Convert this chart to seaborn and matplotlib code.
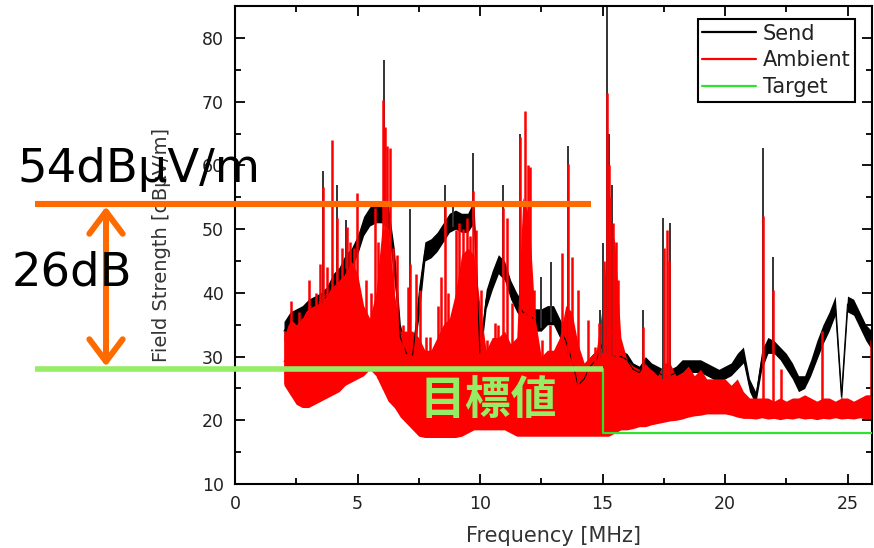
import numpy as np
import pandas as pd
import matplotlib
matplotlib.use("Agg")
import matplotlib.pyplot as plt
import seaborn as sns
from matplotlib.lines import Line2D

# ---------------- data ----------------
freq = np.round(np.arange(2.0, 26.001, 0.25), 2)  # MHz grid of the envelopes

# Send trace (black band): lower / upper envelope, dBuV/m
send_hi = [35.5, 37, 37.5, 38,  39, 39.5, 40, 41,  43, 44, 46, 47,
           49, 52, 53.5, 54,  54, 54, 47, 35,  31.5, 31.5, 41, 48,
           48.5, 49.5, 51, 52.5,  53, 52.5, 52.5, 54.5,  32, 40.5, 43.5, 46,
           45, 42, 40, 38.5,  38, 37.5, 37.5, 38,  38, 36, 34, 31,
           27, 28, 30, 31,  34, 33, 31, 31,  30.5, 29, 28.5, 30,
           29, 28.5, 28, 28,  28.5, 29.5, 29.5, 29.5,  29.5, 29, 28.5, 28,
           28.5, 29, 30.5, 31.5,  26.5, 24.5, 31, 33,  32.5, 31.5, 30.5, 29,
           27, 27, 29.5, 32.5,  35, 37, 39.5, 25,  39.5, 39, 37, 35,  34]
send_lo = [32.5, 34, 34.5, 35,  36, 36.5, 37, 38,  40, 41, 43, 44,
           46, 49, 50.5, 51,  51, 50, 42, 31,  29.5, 29, 36, 45,
           45.5, 46.5, 48, 49.5,  50, 49.5, 49.5, 51,  29, 37.5, 40.5, 43,
           42, 39, 37, 35.5,  35, 34, 34, 35,  35, 33, 31, 28,
           24, 25, 27, 28,  30, 30, 29, 29,  28.5, 27, 26.5, 28,
           27, 26.5, 26, 26,  26.5, 27.5, 27.5, 27.5,  27.5, 27, 26.5, 26,
           26.5, 27, 28, 29,  24.5, 22.5, 28, 30.5,  30.5, 29.5, 28, 26.5,
           24.5, 25, 27, 29.5,  32, 34, 36.5, 22.5,  37, 36.5, 34.5, 32.5,  31]

# Ambient trace (red band): lower / upper envelope
amb_hi = [33, 36, 35, 36,  38, 38, 39, 40,  41, 42, 43, 45,
          43, 38, 36, 40,  50, 50, 40, 34,  34, 34, 33, 31,
          31, 33, 35, 36,  40, 46, 47, 46,  38, 31, 33, 33,
          34, 32, 33, 55,  52, 36, 30, 31,  31, 33, 38, 37,
          32, 29, 30, 31,  38, 52, 48, 33,  29.5, 28.5, 28, 29,
          28, 27, 29, 29,  27, 27.5, 28.5, 27,  28, 26.5, 26.5, 26.5,
          26.5, 25.5, 26.5, 24.5,  23.5, 23.5, 23.5, 23.5,  23, 23.5, 23, 23.5,
          23.5, 24, 23.5, 23,  23.5, 23.5, 23, 23.5,  23.5, 23, 23.5, 24,  24]
amb_lo = [25.5, 24, 22.5, 22,  22, 22.5, 23, 23.5,  24, 24.5, 25.5, 26,
          26.5, 27, 28, 27,  25, 23, 22, 20.5,  19.5, 18.5, 17.5, 17.3,
          17.3, 17.3, 17.3, 17.3,  17.3, 17.5, 18, 18.5,  18.5, 18.5, 18.5, 18.5,
          18.5, 18, 17.5, 17.5,  17.5, 17.5, 17.5, 17.5,  17.5, 17.5, 17.5, 17.5,
          17.5, 17.5, 17.5, 17.5,  17.5, 17.5, 18, 18.5,  18.5, 18.7, 19, 19,
          19.3, 19.5, 19.7, 19.9,  20, 20.2, 20.5, 20.7,  20.8, 21, 21, 21,
          21, 20.8, 20.5, 20.3,  20.3, 20.2, 20.4, 20.2,  20.3, 20.1, 20.3, 20.2,
          20.4, 20.2, 20.3, 20.1,  20.3, 20.2, 20.4, 20.2,  20.3, 20.2, 20.4, 20.2,  20.3]

# narrow spikes (frequency, peak level)
send_spike_f = [3.6, 4.15, 4.55, 6.08, 7.14, 8.57, 8.9, 9.71, 10.94, 11.63,
                12.5, 12.9, 13.6, 14.9, 15.0, 15.18, 15.28, 15.38, 16.66,
                17.47, 17.75, 21.55, 21.96]
send_spike_top = [59.2, 57, 51.4, 76.5, 53.2, 57, 54.5, 62, 56.9, 65,
                  42.5, 44.8, 63.1, 37.3, 47.8, 85, 65, 57, 37.3,
                  51.7, 51, 62.8, 45.6]
amb_spike_f = [2.05, 2.3, 2.6, 2.75, 3.0, 3.3, 3.47, 3.6, 3.75, 3.96, 4.16, 4.35,
               4.57, 4.7, 4.85, 4.98, 5.35, 5.55, 5.7, 5.85, 6.05, 6.12, 6.2,
               6.33, 6.45, 6.6, 6.85, 7.05, 7.14, 7.4, 7.55, 7.8, 7.96, 8.3, 8.4,
               8.57, 8.7, 9.0, 9.15, 9.3, 9.47, 9.6, 9.71, 9.85, 10.05, 10.3,
               10.6, 10.75, 10.94, 11.1, 11.3, 11.63, 11.84, 11.95, 12.04, 12.2,
               12.55, 12.85, 13.35, 13.6, 13.75, 14.0, 14.4, 14.7, 14.85, 15.05,
               15.18, 15.25, 15.32, 15.42, 15.55, 15.65, 16.65, 17.5, 17.62,
               17.72, 21.55, 21.96, 22.3, 23.95, 25.95]
amb_spike_top = [34, 38.8, 37, 36, 42, 40, 44.6, 56.6, 44, 64, 51.8, 47,
                 50.3, 48, 47, 55.6, 42, 40, 53.4, 48, 70.2, 66, 63,
                 62.8, 47, 46, 35, 41, 44.6, 43, 40.4, 33, 33, 38, 42.5,
                 54.5, 40, 49.8, 50.9, 50, 51.8, 49, 56, 49.8, 40.4, 32.6,
                 35.2, 35, 53.4, 51.8, 38.4, 64.4, 68.6, 60, 59.7, 40.4,
                 32.6, 35, 46.2, 60.3, 45.6, 40.4, 35.7, 31.5, 35.2, 45,
                 71.3, 60, 55, 51, 48, 42, 34.6, 47, 49.8,
                 45, 52, 40.4, 28, 34, 32.6]

# Target (step) line
target_f = [2.0, 15.0, 26.0]
target_db = [28, 18, 18]

# annotation levels
limit_db = 54      # 54 dBuV/m
goal_db = 28       # 54 - 26 dB

x_ticks = [0, 5, 10, 15, 20, 25]
y_ticks = [10, 20, 30, 40, 50, 60, 70, 80]

# ---------------- styling ----------------
sns.set_theme(style="ticks")
plt.rcParams["font.family"] = ["DejaVu Sans"]

RED = "#FF0000"
ORANGE = "#FF6A00"
LGREEN = "#96EC64"
TGREEN = "#2EE22E"
TXT = "#222222"

fig = plt.figure(figsize=(8.74, 5.48), dpi=100)
ax = fig.add_axes([235 / 874, 64 / 548, 637 / 874, 477.8 / 548])

minmax = lambda v: (v.min(), v.max())


def band(lo, hi):
    return pd.DataFrame({"freq": np.concatenate([freq, freq]),
                         "level": np.concatenate([lo, hi])})


# Send band + spikes
sns.lineplot(data=band(send_lo, send_hi), x="freq", y="level", estimator="mean",
             errorbar=minmax, color="black", lw=0.8,
             err_kws=dict(alpha=1, lw=0), ax=ax)
send_base = np.interp(send_spike_f, freq, send_lo) + 0.5
ax.vlines(send_spike_f, send_base, send_spike_top, color="#333333", lw=1.4, zorder=2)

# Ambient band + spikes (drawn over Send)
sns.lineplot(data=band(amb_lo, amb_hi), x="freq", y="level", estimator="mean",
             errorbar=minmax, color=RED, lw=0.8,
             err_kws=dict(alpha=1, lw=0), ax=ax)
amb_base = np.interp(amb_spike_f, freq, amb_lo) + 0.5
ax.vlines(amb_spike_f, amb_base, amb_spike_top, color=RED, lw=1.8, zorder=2.5)

# Target line
sns.lineplot(x=target_f, y=target_db, drawstyle="steps-post", color=TGREEN,
             lw=1.6, ax=ax, zorder=3)

ax.set_xlim(0, 26)
ax.set_ylim(10, 85)
ax.set_xticks(x_ticks)
ax.set_yticks(y_ticks)
ax.set_xticks(np.arange(2.5, 26, 5), minor=True)
ax.set_yticks(np.arange(15, 85, 10), minor=True)
ax.tick_params(which="both", direction="in", top=True, right=True,
               width=1.3, color="black", labelsize=12.5, labelcolor=TXT, pad=8)
ax.tick_params(which="major", length=7)
ax.tick_params(which="minor", length=4.5)
for s in ax.spines.values():
    s.set_linewidth(1.5)
    s.set_color("black")

ax.set_xlabel("Frequency [MHz]", fontsize=15, color="#333333", labelpad=9)
ax.set_ylabel("Field Strength [dB\u00b5V/m]", fontsize=14, color="#333333",
              labelpad=22)

handles = [Line2D([], [], color="black", lw=1.6),
           Line2D([], [], color=RED, lw=1.6),
           Line2D([], [], color=TGREEN, lw=1.6)]
leg = ax.legend(handles, ["Send", "Ambient", "Target"], loc="upper right",
                bbox_to_anchor=(855 / 874, 1 - 19 / 548),
                bbox_transform=fig.transFigure, borderaxespad=0,
                fontsize=15, frameon=True, fancybox=False, framealpha=1,
                edgecolor="black", handlelength=2.6, handletextpad=0.3,
                labelspacing=0.33, borderpad=0.22)
leg.get_frame().set_linewidth(1.5)
for t in leg.get_texts():
    t.set_color(TXT)

# ---------------- overlay annotations ----------------
ytr = ax.get_yaxis_transform()
ax.plot([-0.314, 0.559], [limit_db, limit_db], transform=ytr, color=ORANGE,
        lw=4.4, clip_on=False, zorder=6, solid_capstyle="butt")
ax.plot([-0.314, 15 / 26], [goal_db, goal_db], transform=ytr, color=LGREEN,
        lw=4.0, clip_on=False, zorder=6, solid_capstyle="butt")
ax.annotate("", xy=(-0.2025, goal_db + 0.45), xytext=(-0.2025, limit_db - 0.45),
            xycoords=ytr, textcoords=ytr, annotation_clip=False,
            arrowprops=dict(arrowstyle="<->,head_length=0.8,head_width=0.6",
                            color=ORANGE, lw=4.3, shrinkA=0, shrinkB=0,
                            mutation_scale=20), zorder=6)

fig.text(17 / 874, 1 - 182 / 548, "54dB\u00b5V/m", fontsize=33.5, color="black",
         ha="left", va="baseline")
fig.text(12 / 874, 1 - 286 / 548, "26dB", fontsize=33.5, color="black",
         ha="left", va="baseline")
ax.text(10.33, 23.1, "目標値", fontsize=33, fontweight="bold", color=LGREEN,
        ha="center", va="center", family=["Noto Sans CJK JP", "DejaVu Sans"],
        zorder=7)

fig.savefig("out.png", dpi=100)
